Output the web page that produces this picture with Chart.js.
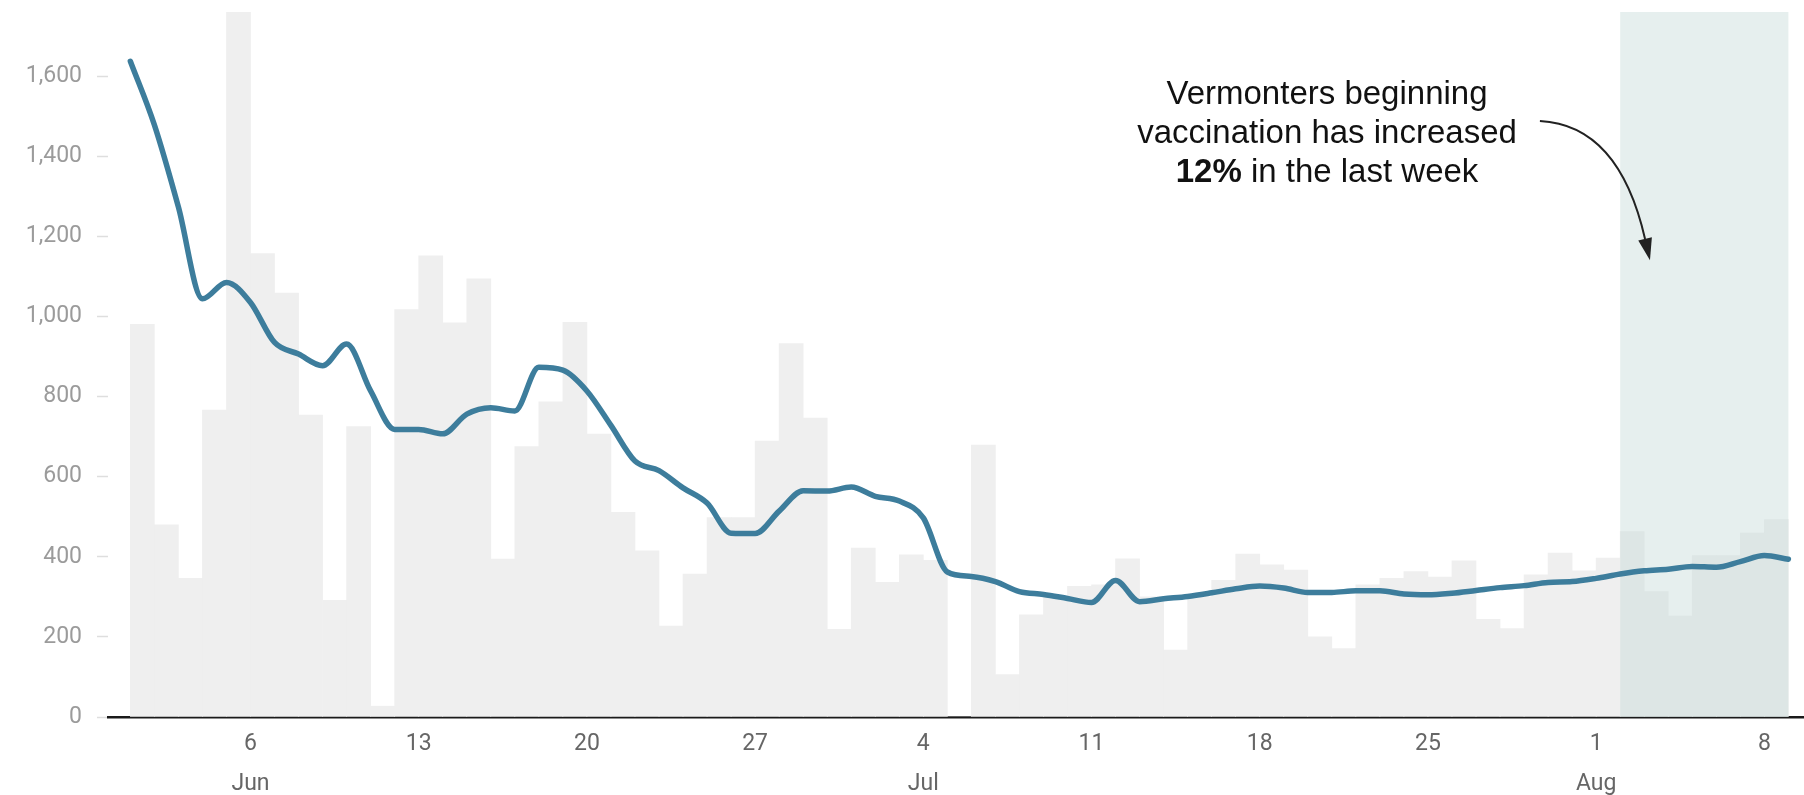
<!DOCTYPE html>
<html>
<head>
<meta charset="utf-8">
<script src="https://cdn.jsdelivr.net/npm/chart.js@4.4.0/dist/chart.umd.min.js"></script>
<style>
  html, body { margin: 0; padding: 0; background: #fff; }
  #wrap { width: 1804px; height: 795px; position: relative; }
</style>
</head>
<body>
<div id="wrap"><canvas id="doses"></canvas></div>
<script>
// daily first doses, Jun 1 .. Aug 8 (one bar per day, day 0 = Jun 1)
const dailyDoses = [
  980, 480, 346, 766, 1760, 1157, 1058, 754, 291, 725, 27, 1017, 1151, 984, 1094,
  394, 675, 787, 985, 706, 511, 415, 227, 357, 498, 498, 689, 932, 746, 219,
  422, 336, 405, 391, 0, 679, 106, 255, 300, 326, 330, 395, 300, 167, 300,
  341, 407, 380, 367, 200, 171, 330, 346, 363, 349, 390, 244, 221, 355, 409, 365,
  397, 463, 313, 252, 403, 403, 459, 493,
];

// 7-day average, sampled at each day boundary (Jun 1 .. Aug 9)
const avgDoses = [
  1637, 1478, 1273, 1044, 1085, 1035, 935, 906, 877, 931,
  814, 718, 718, 707, 756, 772, 764, 873, 866, 814,
  728, 639, 615, 572, 534, 459, 458, 514, 565, 564,
  574, 551, 539, 497, 362, 351, 338, 313, 306, 296,
  286, 341, 288, 295, 301, 310, 320, 327, 322, 311,
  311, 315, 315, 307, 305, 309, 316, 323, 328, 336,
  338, 346, 357, 365, 369, 376, 374, 388, 403, 394,
];

const yTicks = [0, 200, 400, 600, 800, 1000, 1200, 1400, 1600];
const tickDays = [5, 12, 19, 26, 33, 40, 47, 54, 61, 68];
const tickLabels = [["6", "Jun"], "13", "20", "27", ["4", "Jul"], "11", "18", "25", ["1", "Aug"], "8"];

// last week (Aug 2 .. Aug 8)
const highlightStart = 62;
const highlightEnd = 69;

const noteLines = ["Vermonters beginning", "vaccination has increased"];
const noteBold = "12%";
const noteTail = " in the last week";
const noteAt = { x: 49.8, y: 1530 };
const arrowFrom = { x: 58.66, y: 1488 };
const arrowBend = { x: 61.95, y: 1478 };
const arrowTo = { x: 63.24, y: 1140 };

const highlightWeek = {
  id: "highlightWeek",
  afterDatasetDraw(chart, args) {
    if (args.index !== 0) return;
    const { ctx, chartArea, scales } = chart;
    const left = scales.x.getPixelForValue(highlightStart);
    const right = scales.x.getPixelForValue(highlightEnd);
    const bottom = scales.y.getPixelForValue(0);
    ctx.save();
    ctx.fillStyle = "rgba(198, 218, 216, 0.44)";
    ctx.fillRect(left, chartArea.top, right - left, bottom - chartArea.top);
    ctx.restore();
  },
};

const noteArrow = {
  id: "noteArrow",
  afterDraw(chart) {
    const { ctx, scales } = chart;
    const px = (p) => [scales.x.getPixelForValue(p.x), scales.y.getPixelForValue(p.y)];
    const [cx, top] = px(noteAt);
    const lineGap = 39;
    const regular = "33px 'Liberation Sans', Arial, sans-serif";
    const bold = "bold 33px 'Liberation Sans', Arial, sans-serif";

    ctx.save();
    ctx.fillStyle = "#111";
    ctx.textBaseline = "alphabetic";
    ctx.textAlign = "center";
    ctx.font = regular;
    noteLines.forEach((line, i) => ctx.fillText(line, cx, top + i * lineGap));

    // last line mixes a bold figure with regular text
    ctx.textAlign = "left";
    ctx.font = bold;
    const wBold = ctx.measureText(noteBold).width;
    ctx.font = regular;
    const wTail = ctx.measureText(noteTail).width;
    const lx = cx - (wBold + wTail) / 2;
    const ly = top + noteLines.length * lineGap;
    ctx.font = bold;
    ctx.fillText(noteBold, lx, ly);
    ctx.font = regular;
    ctx.fillText(noteTail, lx + wBold, ly);

    // curved arrow down into the highlighted week
    const [sx, sy] = px(arrowFrom);
    const [bx, by] = px(arrowBend);
    const [ex, ey] = px(arrowTo);
    const ang = Math.atan2(ey - by, ex - bx);
    const headLen = 22;
    const headHalf = 7;
    const baseX = ex - Math.cos(ang) * headLen;
    const baseY = ey - Math.sin(ang) * headLen;
    ctx.strokeStyle = "#222";
    ctx.lineWidth = 2;
    ctx.beginPath();
    ctx.moveTo(sx, sy);
    ctx.quadraticCurveTo(bx, by, baseX, baseY);
    ctx.stroke();
    ctx.fillStyle = "#222";
    ctx.beginPath();
    ctx.moveTo(ex, ey);
    ctx.lineTo(baseX - Math.sin(ang) * headHalf, baseY + Math.cos(ang) * headHalf);
    ctx.lineTo(baseX + Math.sin(ang) * headHalf, baseY - Math.cos(ang) * headHalf);
    ctx.closePath();
    ctx.fill();
    ctx.restore();
  },
};

const axisFont = { family: "Roboto, 'Noto Sans', sans-serif", size: 23 };

new Chart(document.getElementById("doses"), {
  type: "bar",
  data: {
    datasets: [
      {
        type: "bar",
        label: "Daily",
        data: dailyDoses.map((v, i) => ({ x: i + 0.5, y: v })),
        backgroundColor: "#efefef",
        borderWidth: 0,
        barPercentage: 1,
        categoryPercentage: 1,
        order: 2,
      },
      {
        type: "line",
        label: "7-day average",
        data: avgDoses.map((v, i) => ({ x: i, y: v })),
        borderColor: "#3d7d9c",
        borderWidth: 5.5,
        pointRadius: 0,
        cubicInterpolationMode: "monotone",
        borderCapStyle: "round",
        borderJoinStyle: "round",
        order: 1,
      },
    ],
  },
  options: {
    responsive: true,
    maintainAspectRatio: false,
    animation: false,
    layout: { padding: { top: 12, right: 0, bottom: 0, left: 0 } },
    plugins: { legend: { display: false }, tooltip: { enabled: false } },
    scales: {
      x: {
        type: "linear",
        min: -0.93,
        max: 69.65,
        offset: false,
        grid: { display: false, drawTicks: false },
        border: { display: true, color: "#1a1a1a", width: 2.5 },
        afterBuildTicks: (scale) => {
          scale.ticks = tickDays.map((d) => ({ value: d }));
        },
        afterFit: (scale) => {
          scale.height = 78;
          scale.paddingLeft = 0;
          scale.paddingRight = 0;
        },
        ticks: {
          autoSkip: false,
          maxRotation: 0,
          padding: 7,
          color: "#666",
          font: { ...axisFont, lineHeight: 1.75 },
          callback: (value, index) => tickLabels[index],
        },
      },
      y: {
        min: 0,
        max: 1760,
        grid: {
          drawOnChartArea: false,
          drawTicks: true,
          tickLength: 11,
          tickColor: "#dedede",
          tickWidth: 1.5,
        },
        border: { display: false },
        afterBuildTicks: (scale) => {
          scale.ticks = yTicks.map((v) => ({ value: v }));
        },
        afterFit: (scale) => {
          scale.width = 108;
          scale.paddingTop = 0;
          scale.paddingBottom = 0;
        },
        ticks: {
          padding: 15,
          color: "#9b9b9b",
          font: axisFont,
          callback: (value) => value.toLocaleString("en-US"),
        },
      },
    },
  },
  plugins: [highlightWeek, noteArrow],
});
</script>
</body>
</html>
